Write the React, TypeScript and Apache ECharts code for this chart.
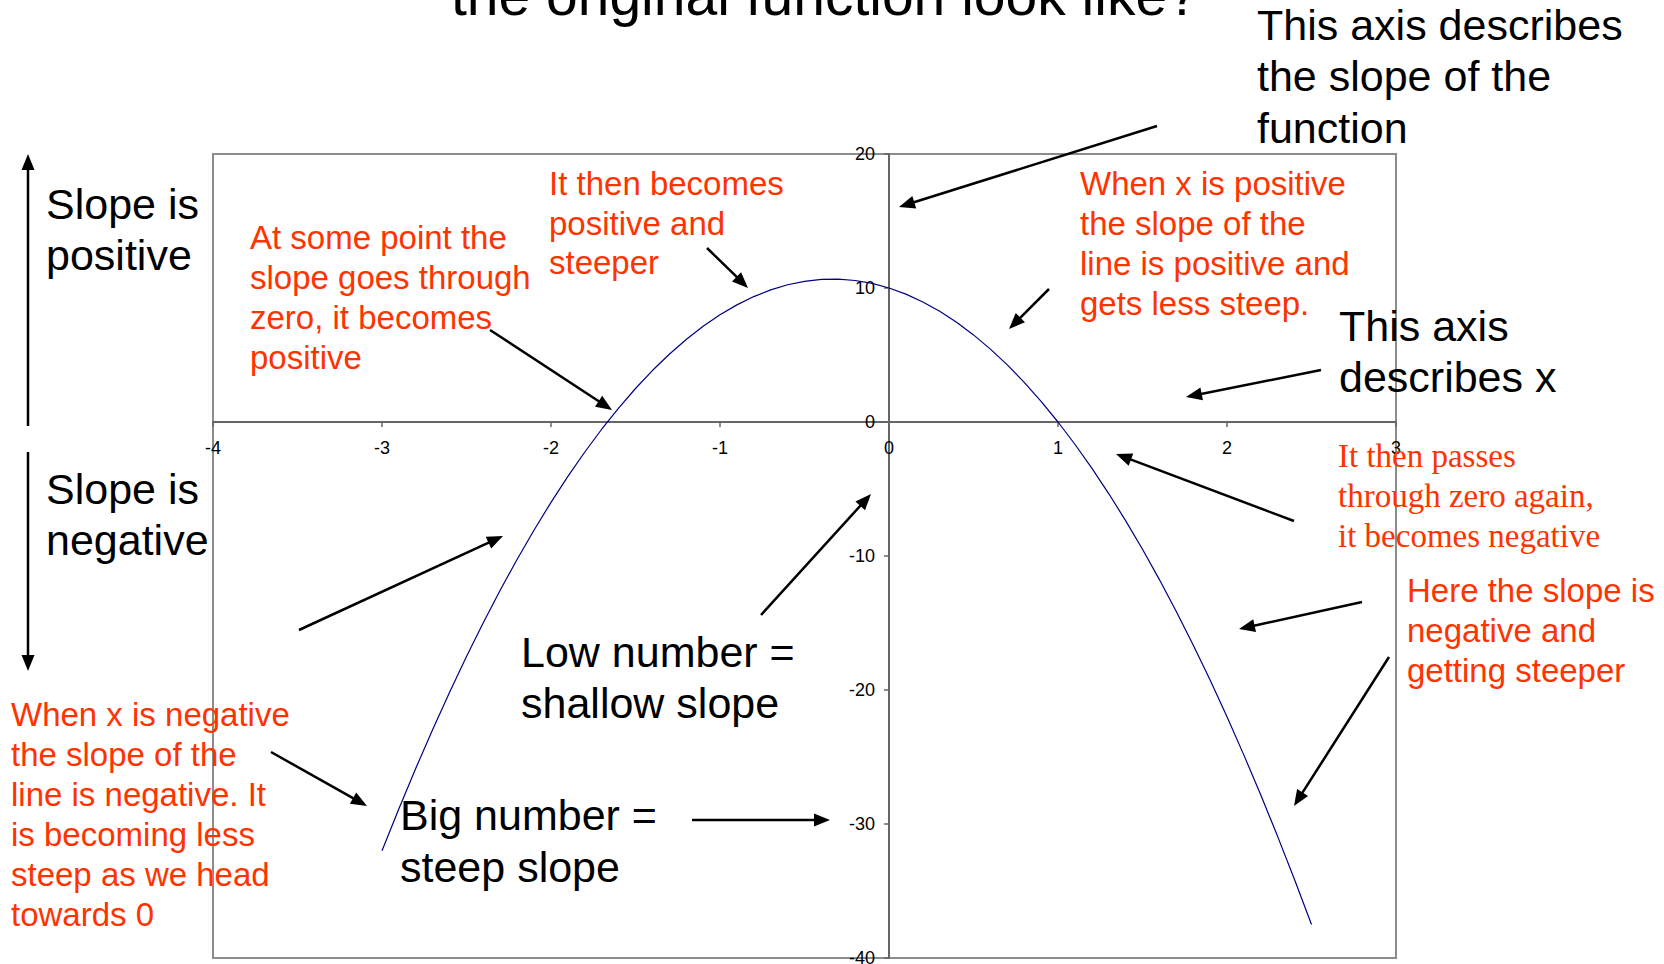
import { useEffect, useRef } from "react";
import * as echarts from "echarts";

// x values of the plotted slope (derivative) curve
const xValues = [
  -3, -2.9, -2.8, -2.7, -2.6, -2.5, -2.4, -2.3, -2.2, -2.1,
  -2, -1.9, -1.8, -1.7, -1.6, -1.5, -1.4, -1.3, -1.2, -1.1,
  -1, -0.9, -0.8, -0.7, -0.6, -0.5, -0.4, -0.3, -0.2, -0.1,
  0, 0.1, 0.2, 0.3, 0.4, 0.5, 0.6, 0.7, 0.8, 0.9,
  1, 1.1, 1.2, 1.3, 1.4, 1.5, 1.6, 1.7, 1.8, 1.9,
  2, 2.1, 2.2, 2.3, 2.4, 2.5,
];
// slope values
const slopeValues = [
  -32, -28.86, -25.84, -22.94, -20.16, -17.5, -14.96, -12.54, -10.24, -8.06,
  -6, -4.06, -2.24, -0.54, 1.04, 2.5, 3.84, 5.06, 6.16, 7.14,
  8, 8.74, 9.36, 9.86, 10.24, 10.5, 10.64, 10.66, 10.56, 10.34,
  10, 9.54, 8.96, 8.26, 7.44, 6.5, 5.44, 4.26, 2.96, 1.54,
  0, -1.66, -3.44, -5.34, -7.36, -9.5, -11.76, -14.14, -16.64, -19.26,
  -22, -24.86, -27.84, -30.94, -34.16, -37.5,
];
const xMin = -4;
const xMax = 3;
const xStep = 1;
const yMin = -40;
const yMax = 20;
const yStep = 10;

const titleText = "the original function look like?";
const axisSlopeNote = "This axis describes\nthe slope of the\nfunction";
const axisXNote = "This axis\ndescribes x";
const posNote = "Slope is\npositive";
const negNote = "Slope is\nnegative";
const lowNote = "Low number =\nshallow slope";
const bigNote = "Big number =\nsteep slope";
const zeroNote = "At some point the\nslope goes through\nzero, it becomes\npositive";
const steeperNote = "It then becomes\npositive and\nsteeper";
const xPosNote = "When x is positive\nthe slope of the\nline is positive and\ngets less steep.";
const passNote = "It then passes\nthrough zero again,\nit becomes negative";
const hereNote = "Here the slope is\nnegative and\ngetting steeper";
const xNegNote =
  "When x is negative\nthe slope of the\nline is negative. It\nis becoming less\nsteep as we head\ntowards 0";

const SANS = '"Liberation Sans", Arial, Helvetica, sans-serif';
const SERIF = '"Liberation Serif", "Times New Roman", Times, serif';
const RED = "#ff3300";

const GRID_LEFT = 213;
const GRID_TOP = 154;
const GRID_W = 1183;
const GRID_H = 804;

function note(
  text: string,
  x: number,
  top: number,
  size: number,
  lh: number,
  color: string,
  family: string
) {
  return {
    type: "text",
    x,
    y: top,
    z: 100,
    silent: true,
    style: {
      text,
      fill: color,
      fontSize: size,
      fontFamily: family,
      lineHeight: lh,
      verticalAlign: "top",
      align: "left",
    },
  };
}

function arrow(x1: number, y1: number, x2: number, y2: number) {
  const headLen = 16;
  const headHalf = 6.5;
  const a = Math.atan2(y2 - y1, x2 - x1);
  const c = Math.cos(a);
  const s = Math.sin(a);
  const bx = x2 - headLen * c;
  const by = y2 - headLen * s;
  return [
    {
      type: "line",
      z: 100,
      silent: true,
      shape: { x1, y1, x2: bx + 2 * c, y2: by + 2 * s },
      style: { stroke: "#000", lineWidth: 2.5 },
    },
    {
      type: "polygon",
      z: 100,
      silent: true,
      shape: {
        points: [
          [x2, y2],
          [bx - headHalf * s, by + headHalf * c],
          [bx + headHalf * s, by - headHalf * c],
        ],
      },
      style: { fill: "#000" },
    },
  ];
}

export default function App() {
  const ref = useRef<HTMLDivElement>(null);

  useEffect(() => {
    if (!ref.current) return;
    const chart = echarts.init(ref.current, undefined, { renderer: "svg" });

    const axisLineStyle = { color: "#666666", width: 2 };
    const labelStyle = { color: "#000", fontSize: 18, fontFamily: SANS };

    // place each axis where the other axis is zero
    const xAxisOffset = -GRID_H * ((0 - yMin) / (yMax - yMin));
    const yAxisOffset = -GRID_W * ((0 - xMin) / (xMax - xMin));

    const graphics: any[] = [
      {
        type: "text",
        x: 451,
        y: -5,
        z: 100,
        silent: true,
        style: {
          text: titleText,
          fill: "#000",
          fontSize: 57,
          fontFamily: SANS,
          verticalAlign: "middle",
          align: "left",
        },
      },
      note(axisSlopeNote, 1257, -1, 43, 51.5, "#000", SANS),
      note(axisXNote, 1339, 300, 43, 51.5, "#000", SANS),
      note(posNote, 46, 178, 43, 51, "#000", SANS),
      note(negNote, 46, 463, 43, 51, "#000", SANS),
      note(lowNote, 521, 626, 43, 51.5, "#000", SANS),
      note(bigNote, 400, 789.5, 43, 51.5, "#000", SANS),
      note(zeroNote, 250, 217, 33, 40, RED, SANS),
      note(steeperNote, 549, 164, 33, 39.5, RED, SANS),
      note(xPosNote, 1080, 163, 33, 40, RED, SANS),
      note(passNote, 1338, 436, 33, 40, RED, SERIF),
      note(hereNote, 1407, 570, 33, 40, RED, SANS),
      note(xNegNote, 11, 694, 33, 40, RED, SANS),
      ...arrow(28, 426, 28, 154),
      ...arrow(28, 452, 28, 671),
      ...arrow(1157, 126, 899, 207),
      ...arrow(707, 248, 748, 288),
      ...arrow(490, 330, 612, 410),
      ...arrow(1049, 289, 1009, 329),
      ...arrow(1321, 370, 1186, 397),
      ...arrow(1294, 521, 1116, 454),
      ...arrow(1362, 602, 1239, 629),
      ...arrow(1389, 657, 1294, 806),
      ...arrow(761, 615, 871, 494),
      ...arrow(692, 820, 830, 820),
      ...arrow(271, 752, 367, 806),
      ...arrow(299, 630, 503, 536),
    ];

    chart.setOption({
      animation: false,
      backgroundColor: "#ffffff",
      grid: {
        left: GRID_LEFT,
        top: GRID_TOP,
        width: GRID_W,
        height: GRID_H,
        show: true,
        borderColor: "#8c8c8c",
        borderWidth: 2,
        backgroundColor: "transparent",
        containLabel: false,
        outerBoundsMode: "none",
      },
      xAxis: {
        type: "value",
        min: xMin,
        max: xMax,
        interval: xStep,
        position: "bottom",
        offset: xAxisOffset,
        axisLine: { show: true, onZero: false, lineStyle: axisLineStyle },
        axisTick: { show: true, length: 5, lineStyle: { color: "#666666", width: 1.5 } },
        axisLabel: { ...labelStyle, margin: 17, showMinLabel: true, showMaxLabel: true },
        splitLine: { show: false },
      },
      yAxis: {
        type: "value",
        min: yMin,
        max: yMax,
        interval: yStep,
        position: "left",
        offset: yAxisOffset,
        axisLine: { show: true, onZero: false, lineStyle: axisLineStyle },
        axisTick: { show: true, length: 5, lineStyle: { color: "#666666", width: 1.5 } },
        axisLabel: { ...labelStyle, margin: 14, showMinLabel: true, showMaxLabel: true },
        splitLine: { show: false },
      },
      series: [
        {
          type: "line",
          data: xValues.map((x, i) => [x, slopeValues[i]]),
          symbol: "none",
          showSymbol: false,
          smooth: false,
          lineStyle: { color: "#000080", width: 1.2 },
          z: 2,
        },
      ],
      graphic: { elements: graphics },
    });

    return () => {
      chart.dispose();
    };
  }, []);

  return (
    <div
      ref={ref}
      style={{
        position: "fixed",
        left: 0,
        top: 0,
        width: 1664,
        height: 964,
        background: "#fff",
      }}
    />
  );
}
